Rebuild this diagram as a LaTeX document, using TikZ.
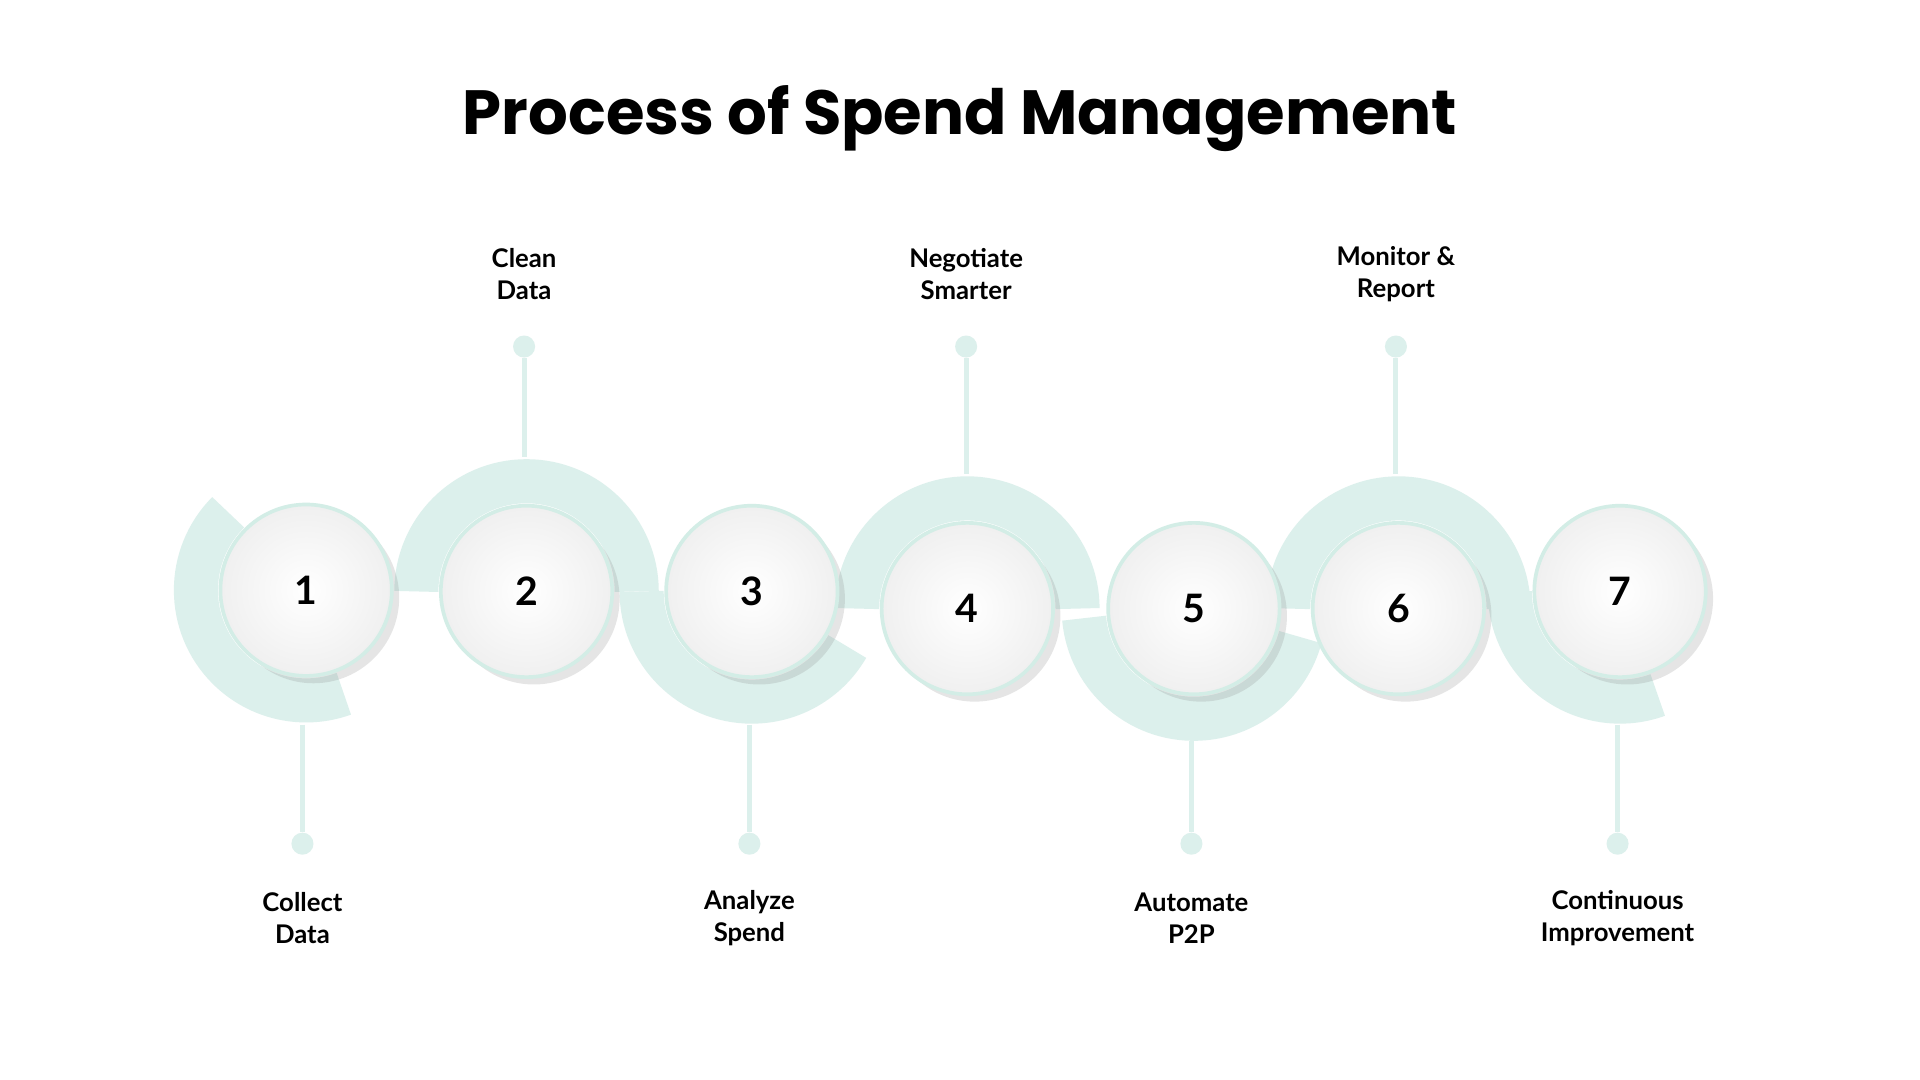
\documentclass[tikz,border=0pt]{standalone}
\usepackage{fontspec}
\setmainfont{Lato}
\newfontfamily\titlefont{Poppins}
\usetikzlibrary{shadows}
\definecolor{mint}{HTML}{DCF0EC}
\definecolor{mintb}{HTML}{D3EDE6}
\begin{document}
\begin{tikzpicture}[x=0.5pt,y=0.5pt,
  band/.style={mint,line width=18pt},
  stepcirc/.style={circle,minimum size=70pt,inner sep=0,draw=mintb,line width=1.5pt,
    inner color=white,outer color=black!6,
    drop shadow={shadow xshift=3pt,shadow yshift=-3pt,opacity=0.2,fill=black!50},
    font=\bfseries\fontsize{16}{16}\selectfont},
  stem/.style={mint,line width=2pt},
  dotn/.style={circle,fill=mint,minimum size=9pt,inner sep=0},
  lab/.style={align=center,font=\bfseries\fontsize{10.5}{13}\selectfont}]
\fill[white] (0,0) rectangle (1568,-882);
\node[font=\titlefont\bfseries\fontsize{25.5}{28}\selectfont] (title) at (784,-97) {Process of Spend Management};
% bands
\draw[band] (250,-482)++(135:90) arc (135:290:90);
\draw[band] (430,-483)++(180:90) arc (180:0:90);
\draw[band] (614,-483)++(180:90) arc (180:330:90);
\draw[band] (790,-497)++(180:90) arc (180:0:90);
\draw[band] (975,-497)++(185:90) arc (185:345:90);
\draw[band] (1142,-497)++(180:90) arc (180:0:90);
\draw[band] (1323,-483)++(180:90) arc (180:290:90);
% circles
\foreach \n/\x/\y in {1/250/482,2/430/483,3/614/483,4/790/497,5/975/497,6/1142/497,7/1323/483}
  \node[stepcirc] (c\n) at (\x,-\y) {\n};
% stems and labels
\foreach \n/\x/\a/\b/\t in {2/428/373/283/{Clean\\Data},4/789/387/283/{Negotiate\\Smarter},6/1140/387/283/{Monitor \&\\Report}}{
  \coordinate (s\n) at (\x,-\a);
  \node[dotn] (d\n) at (\x,-\b) {};
  \draw[stem] (s\n) -- (d\n);
  \node[lab] (l\n) at (\x,-224) {\t};
}
\foreach \n/\x/\a/\t in {1/247/592/{Collect\\Data},3/612/592/{Analyze\\Spend},5/973/605/{Automate\\P2P},7/1321/592/{Continuous\\Improvement}}{
  \coordinate (s\n) at (\x,-\a);
  \node[dotn] (d\n) at (\x,-689) {};
  \draw[stem] (s\n) -- (d\n);
  \node[lab] (l\n) at (\x,-750) {\t};
}
\end{tikzpicture}
\end{document}
